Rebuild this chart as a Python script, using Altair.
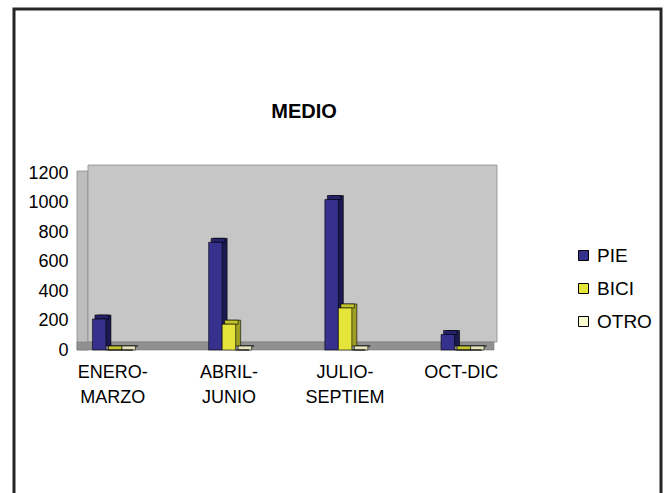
import altair as alt
import pandas as pd

# Quarterly counts per transport mode
quarters = ["ENERO-MARZO", "ABRIL-JUNIO", "JULIO-SEPTIEM", "OCT-DIC"]
modes = ["PIE", "BICI", "OTRO"]
pie = [210, 730, 1020, 105]
bici = [0, 175, 285, 0]
otro = [0, 0, 0, 0]
y_ticks = [0, 200, 400, 600, 800, 1000, 1200]

front_colors = ["#35318c", "#e4e43a", "#fbfbd2"]
side_colors = ["#1b1950", "#9e9e24", "#c8c8a4"]
top_colors = ["#25226a", "#c4c42e", "#e4e4bc"]

rows = []
for i, q in enumerate(quarters):
    for m, vals in zip(modes, [pie, bici, otro]):
        rows.append({"periodo": q, "medio": m, "valor": vals[i]})
df = pd.DataFrame(rows)
one = pd.DataFrame({"k": [0]})

FONT = "Liberation Sans"
W, H = 420, 177
PAD_IN, PAD_OUT = 0.6515, 0.133
STEP = W / (len(quarters) - PAD_IN + 2 * PAD_OUT)
BAND = STEP * (1 - PAD_IN)
DX, DY = 5, 4

x_scale = alt.Scale(domain=quarters, paddingInner=PAD_IN, paddingOuter=PAD_OUT)
y_scale = alt.Scale(domain=[0, 1200], nice=False)

# Two-line period labels, broken after the first hyphen
label_expr = (
    "datum.label == 'OCT-DIC' ? datum.label : "
    "[substring(datum.label, 0, indexof(datum.label, '-') + 1), "
    "substring(datum.label, indexof(datum.label, '-') + 1, length(datum.label))]"
)

x_axis = alt.Axis(
    title=None, domain=False, ticks=False, labelAngle=0, labelFont=FONT,
    labelFontSize=18, labelColor="black", labelPadding=13,
    bandPosition=0.5 - 7 / BAND,
    labelLineHeight=25, labelExpr=label_expr,
)
y_axis = alt.Axis(
    title=None, domain=False, ticks=False, grid=False, values=y_ticks,
    format="d", labelFont=FONT, labelFontSize=18, labelColor="black",
    labelPadding=9,
)

x_enc = alt.X("periodo:N", sort=quarters, scale=x_scale, axis=x_axis)
y_enc = alt.Y("valor:Q", scale=y_scale, axis=y_axis)


def offset_enc(shift):
    return alt.XOffset(
        "medio:N", sort=modes,
        scale=alt.Scale(domain=modes, range=[shift, BAND + shift],
                        paddingInner=0, paddingOuter=0),
    )


# Chart frame, walls and floor of the 3D box
frame = alt.Chart(one).mark_rect(
    fillOpacity=0, stroke="#262626", strokeWidth=3
).encode(x=alt.value(-63), x2=alt.value(584), y=alt.value(-164), y2=alt.value(340))

side_wall = alt.Chart(one).mark_rect(
    fill="#bdbdbd", stroke="#8c8c8c", strokeWidth=0.8
).encode(x=alt.value(0), x2=alt.value(11), y=alt.value(-2), y2=alt.value(H))

back_wall = alt.Chart(one).mark_rect(
    fill="#c6c6c6", stroke="#8c8c8c", strokeWidth=0.8
).encode(x=alt.value(11), x2=alt.value(W), y=alt.value(-8), y2=alt.value(H - 8))

floor = alt.Chart(one).mark_rect(
    fill="#909090", stroke="#7a7a7a", strokeWidth=0.6
).encode(x=alt.value(0), x2=alt.value(W - 3), y=alt.value(H - 8), y2=alt.value(H))

# Column side faces, top faces and front faces
sides = alt.Chart(df).mark_bar(
    yOffset=-DY, y2Offset=-DY, stroke="black", strokeWidth=0.6
).encode(
    x=x_enc,
    xOffset=offset_enc(DX),
    y=y_enc,
    y2=alt.datum(0),
    color=alt.Color("medio:N", scale=alt.Scale(domain=modes, range=side_colors), legend=None),
)

tops = alt.Chart(df).mark_bar(
    yOffset=-DY, stroke="black", strokeWidth=0.6
).encode(
    x=x_enc,
    xOffset=offset_enc(DX / 2),
    y=y_enc,
    y2=alt.Y2("valor:Q"),
    color=alt.Color("medio:N", scale=alt.Scale(domain=modes, range=top_colors), legend=None),
)

fronts = alt.Chart(df).mark_bar(stroke="black", strokeWidth=0.6).encode(
    x=x_enc,
    xOffset=offset_enc(0),
    y=y_enc,
    y2=alt.datum(0),
    color=alt.Color(
        "medio:N",
        scale=alt.Scale(domain=modes, range=front_colors),
        legend=alt.Legend(
            title=None, orient="none", legendX=497, legendY=73,
            symbolType="square", symbolSize=100, symbolStrokeColor="black",
            symbolStrokeWidth=1, symbolOpacity=1, labelFont=FONT,
            labelFontSize=19, labelColor="black", labelOffset=4,
            rowPadding=13, padding=0,
        ),
    ),
)

title = alt.Chart(one).mark_text(
    text="MEDIO", font=FONT, fontSize=20, fontWeight="bold", color="black",
    baseline="middle", align="center",
).encode(x=alt.value(227), y=alt.value(-61))

chart = (
    alt.layer(frame, side_wall, back_wall, floor, sides, tops, fronts, title)
    .resolve_scale(color="independent", xOffset="independent")
    .properties(
        width=W, height=H,
        autosize=alt.AutoSizeParams(type="none"),
        padding={"left": 77, "top": 173, "right": 171, "bottom": 143},
        background="white",
    )
    .configure_view(stroke=None)
)

chart.save("out.html", embed_options={"renderer": "svg", "actions": False})
